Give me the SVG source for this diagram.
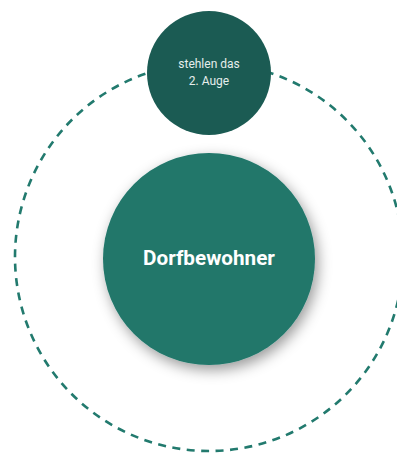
<svg xmlns="http://www.w3.org/2000/svg" width="397" height="453" viewBox="0 0 397 453">
  <style>
    .orbit { fill: none; stroke: #227a6e; stroke-width: 2.6; stroke-dasharray: 8 6.5; }
    .main { fill: #21776b; }
    .sub { fill: #1b5b53; }
    .label-main { font-family: Roboto, "Liberation Sans", sans-serif; font-weight: 700; font-size: 20.7px; fill: #ffffff; text-anchor: middle; }
    .label-sub { font-family: Roboto, "Liberation Sans", sans-serif; font-size: 12px; fill: #e6eeec; text-anchor: middle; }
  </style>
  <defs>
    <filter id="shadow" x="-30%" y="-30%" width="160%" height="160%">
      <feDropShadow dx="3" dy="5" stdDeviation="7" flood-color="#000000" flood-opacity="0.4"/>
    </filter>
  </defs>
  <rect width="397" height="453" fill="#ffffff"/>
  <g id="connectors">
    <circle class="orbit" cx="209" cy="257" r="194"/>
  </g>
  <g id="node-dorfbewohner">
    <circle class="main" cx="209" cy="259" r="106" filter="url(#shadow)"/>
    <text class="label-main" x="209" y="265">Dorfbewohner</text>
  </g>
  <g id="node-auge">
    <circle class="sub" cx="209" cy="73" r="62"/>
    <text class="label-sub" x="209" y="68">stehlen das</text>
    <text class="label-sub" x="209" y="85">2. Auge</text>
  </g>
</svg>
